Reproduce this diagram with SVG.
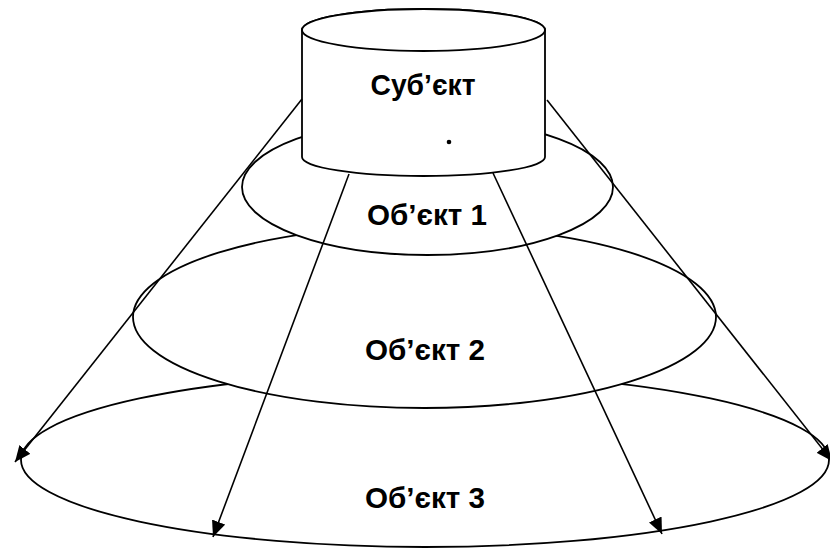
<svg xmlns="http://www.w3.org/2000/svg" width="830" height="550" viewBox="0 0 830 550">
<style>
.shape{fill:#fff;stroke:#000;stroke-width:1.8}
.conn{fill:none;stroke:#000;stroke-width:1.6}
.lbl{font-family:"Liberation Sans",Arial,sans-serif;font-weight:bold;font-size:30px;fill:#000;text-anchor:middle}
</style>
<defs>
<marker id="arr" markerUnits="userSpaceOnUse" markerWidth="17" markerHeight="14" refX="16" refY="7" orient="auto">
<path d="M0,0 L16,7 L0,14 Z" fill="#000"/>
</marker>
</defs>
<g id="obj3">
<ellipse class="shape" cx="425" cy="460" rx="404" ry="87"/>
<text class="lbl" x="425" y="508" textLength="120" lengthAdjust="spacingAndGlyphs">Об’єкт 3</text>
</g>
<g id="obj2">
<ellipse class="shape" cx="424.5" cy="317" rx="291.5" ry="91"/>
<text class="lbl" x="425" y="360" textLength="120" lengthAdjust="spacingAndGlyphs">Об’єкт 2</text>
</g>
<g id="obj1">
<ellipse class="shape" cx="427.5" cy="187" rx="185.5" ry="68"/>
<text class="lbl" x="427" y="225" textLength="120" lengthAdjust="spacingAndGlyphs">Об’єкт 1</text>
</g>
<g id="subject">
<path class="shape" d="M302,30 L302,157 A121.5,19 0 0 0 545,157 L545,30 A121.5,21 0 0 0 302,30 Z"/>
<ellipse class="shape" cx="423.5" cy="30" rx="121.5" ry="21"/>
<text class="lbl" x="423" y="95" textLength="105" lengthAdjust="spacingAndGlyphs">Суб’єкт</text>
<circle cx="449" cy="142" r="2.3" fill="#000"/>
</g>
<g id="connectors">
<line class="conn" x1="302" y1="99" x2="15" y2="462" marker-end="url(#arr)"/>
<line class="conn" x1="547" y1="100" x2="832" y2="461" marker-end="url(#arr)"/>
<line class="conn" x1="349" y1="174" x2="213" y2="537" marker-end="url(#arr)"/>
<line class="conn" x1="493" y1="173" x2="662" y2="534" marker-end="url(#arr)"/>
</g>
</svg>
